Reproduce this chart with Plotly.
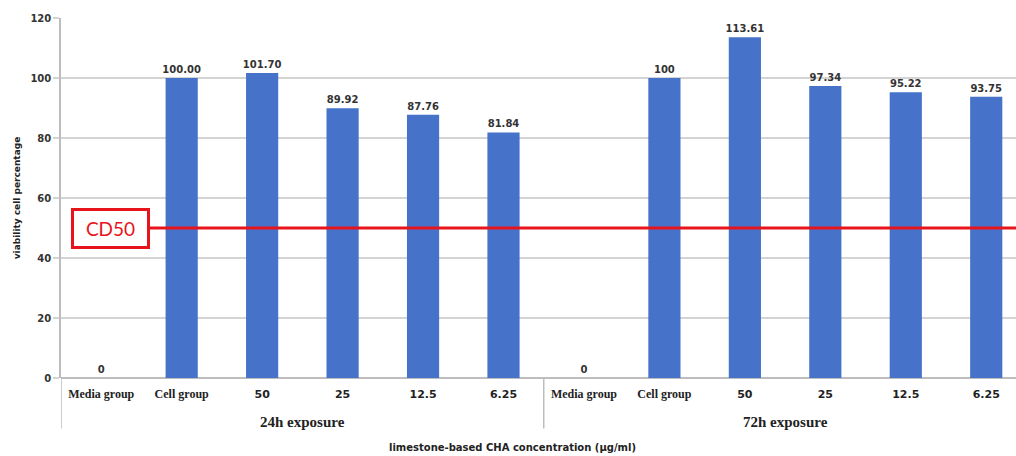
import plotly.graph_objects as go

categories = ["Media group", "Cell group", "50", "25", "12.5", "6.25",
              "Media group", "Cell group", "50", "25", "12.5", "6.25"]
values = [0, 100.00, 101.70, 89.92, 87.76, 81.84,
          0, 100, 113.61, 97.34, 95.22, 93.75]
value_labels = ["0", "100.00", "101.70", "89.92", "87.76", "81.84",
                "0", "100", "113.61", "97.34", "95.22", "93.75"]
groups = ["24h exposure", "72h exposure"]
group_size = 6
cd50_value = 50
y_ticks = [0, 20, 40, 60, 80, 100, 120]

x_idx = list(range(len(categories)))
serif = "Liberation Serif"
sans = "DejaVu Sans"

def tick_label(c):
    if c.replace(".", "").isdigit():
        return f"<span style='font-family:{sans};font-size:11px'><b>{c}</b></span>"
    return f"<span style='font-family:{serif};font-size:12px'><b>{c}</b></span>"

fig = go.Figure()
fig.add_trace(go.Bar(
    x=x_idx, y=values, width=0.4,
    marker=dict(color="#4672CA", line=dict(width=0)),
    text=[f"<b>{t}</b>" for t in value_labels],
    textposition="outside", cliponaxis=False, constraintext="none",
    textfont=dict(family=sans, size=10, color="#333333"),
    showlegend=False,
))

fig.update_xaxes(
    range=[-0.5, 11.37], tickvals=x_idx,
    ticktext=[tick_label(c) for c in categories],
    tickfont=dict(size=12, color="#222222"),
    showgrid=False, zeroline=False, showline=False, ticks="",
    ticklabelstandoff=7, automargin=False,
)
fig.update_yaxes(
    range=[0, 120], tickvals=y_ticks,
    ticktext=[f"<b>{v}</b>" for v in y_ticks],
    tickfont=dict(family=sans, size=10, color="#333333"),
    showgrid=True, gridcolor="#d4d4d4", gridwidth=1.5,
    zeroline=True, zerolinecolor="#bdbdbd", zerolinewidth=1.5,
    showline=True, linecolor="#bdbdbd", linewidth=1.5,
    ticks="outside", ticklen=6, tickcolor="#d4d4d4", tickwidth=1.5,
    automargin=False,
    title=dict(text="<b>viability cell percentage</b>",
               font=dict(family=sans, size=9, color="#222222"), standoff=8),
)

shapes = []
# group separators
for k in range(len(groups)):
    xs = k * group_size - 0.5
    shapes.append(dict(type="line", xref="x", yref="paper", x0=xs, x1=xs,
                       y0=0, y1=-0.14, line=dict(color="#bdbdbd", width=1.5)))
# CD50 line
shapes.append(dict(type="line", xref="paper", yref="y", x0=0.092, x1=1,
                   y0=cd50_value, y1=cd50_value,
                   line=dict(color="#E8141B", width=3), layer="above"))
fig.update_layout(shapes=shapes)

annotations = []
for k, g in enumerate(groups):
    cx = k * group_size + (group_size - 1) / 2
    annotations.append(dict(x=cx, xref="x", y=-0.122, yref="paper",
                            yanchor="middle",
                            text=f"<b>{g}</b>", showarrow=False,
                            font=dict(family=serif, size=15, color="#222222")))
annotations.append(dict(x=0.473, xref="paper", y=-0.192, yref="paper",
                        xanchor="center", yanchor="middle",
                        text="<b>limestone-based CHA concentration (µg/ml)</b>",
                        showarrow=False,
                        font=dict(family=sans, size=10, color="#222222")))
annotations.append(dict(x=0.0518, xref="paper", y=cd50_value, yref="y",
                        xanchor="center", yanchor="middle",
                        text="CD50", showarrow=False, width=73, height=35,
                        bordercolor="#E8141B", borderwidth=3, borderpad=0,
                        bgcolor="white",
                        font=dict(family="Lato", size=19, color="#E8141B")))
fig.update_layout(annotations=annotations)

fig.update_layout(
    width=1016, height=456,
    margin=dict(l=61, r=0, t=18, b=78),
    paper_bgcolor="white", plot_bgcolor="white",
    bargap=0.6,
)
fig.write_html("out.html", config={"displayModeBar": False},
               post_script="document.body.style.margin='0';document.body.style.overflow='hidden';")
